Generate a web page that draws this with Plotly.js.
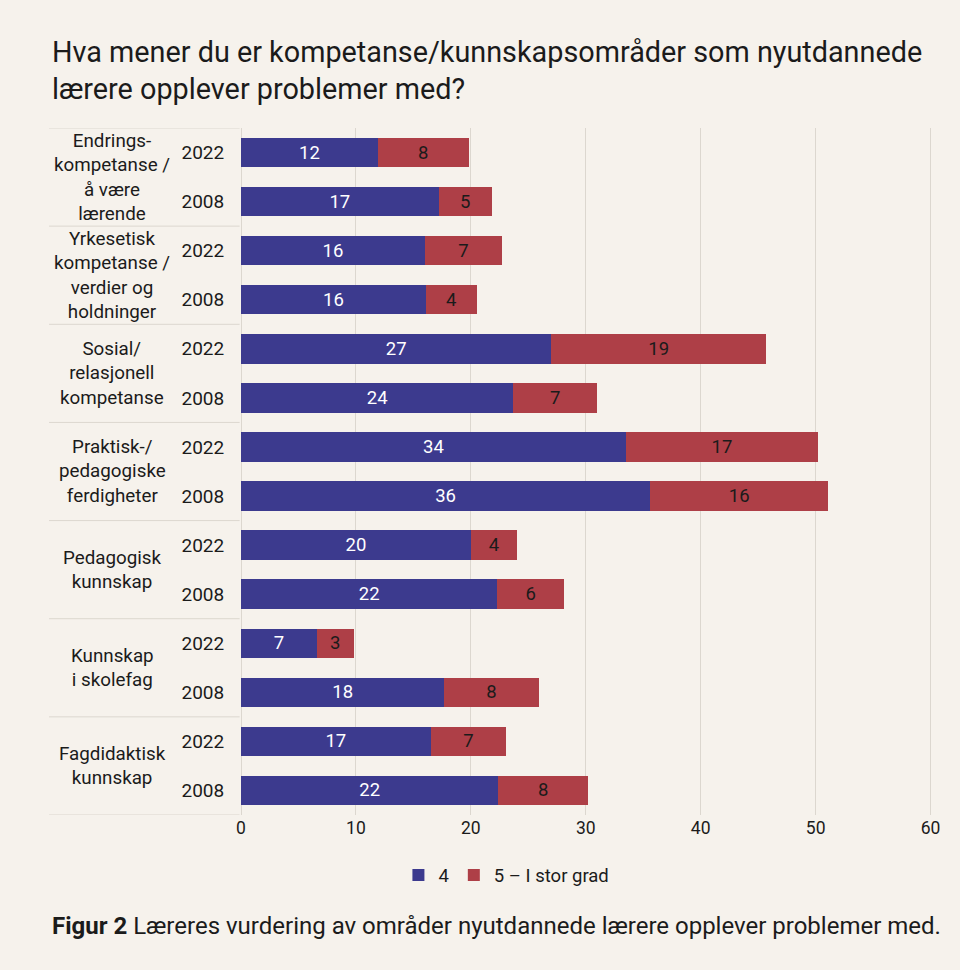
<!DOCTYPE html>
<html>
<head>
<meta charset="utf-8">
<script src="https://cdn.plot.ly/plotly-3.0.1.min.js"></script>
<style>
  html, body { margin: 0; padding: 0; background: #f6f2ec; }
  #chart { width: 960px; height: 970px; }
</style>
</head>
<body>
<div id="chart"></div>
<script>
// ---- Data ----
const groups = [
  "Endrings-<br>kompetanse /<br>å være<br>lærende",
  "Yrkesetisk<br>kompetanse /<br>verdier og<br>holdninger",
  "Sosial/<br>relasjonell<br>kompetanse",
  "Praktisk-/<br>pedagogiske<br>ferdigheter",
  "Pedagogisk<br>kunnskap",
  "Kunnskap<br>i skolefag",
  "Fagdidaktisk<br>kunnskap"
];
const years = ["2022", "2008"];
const grad4_2022 = [11.9, 16.0, 27.0, 33.5, 20.0, 6.6, 16.5];
const grad4_2008 = [17.2, 16.1, 23.7, 35.6, 22.3, 17.7, 22.4];
const grad5_2022 = [7.9, 6.7, 18.7, 16.7, 4.0, 3.2, 6.6];
const grad5_2008 = [4.6, 4.4, 7.3, 15.5, 5.8, 8.2, 7.8];
const seriesNames = ["4", "5 – I stor grad"];
const xTicks = [0, 10, 20, 30, 40, 50, 60];
const titleText = "Hva mener du er kompetanse/kunnskapsområder som nyutdannede<br>lærere opplever problemer med?";
const captionText = "<b>Figur 2</b> Læreres vurdering av områder nyutdannede lærere opplever problemer med.";

// ---- Build rows (2 per group) ----
const rowY = [], rowYearText = [], v4 = [], v5 = [];
groups.forEach((g, i) => {
  rowY.push(2 * i);     rowYearText.push(years[0]); v4.push(grad4_2022[i]); v5.push(grad5_2022[i]);
  rowY.push(2 * i + 1); rowYearText.push(years[1]); v4.push(grad4_2008[i]); v5.push(grad5_2008[i]);
});

const FONT = "Roboto, 'Noto Sans', sans-serif";
const TXT = "#1b1b1b";
const BLUE = "#3c3a8e";
const RED = "#ae3f47";
const GRID = "#dcd7cf";

const traces = [
  {
    type: "bar", orientation: "h", name: seriesNames[0],
    x: v4, y: rowY, marker: { color: BLUE, line: { width: 0 } },
    texttemplate: "%{x:.0f}", textposition: "inside", insidetextanchor: "middle",
    textangle: 0, insidetextfont: { color: "#ffffff", size: 18.5, family: FONT },
    hoverinfo: "skip"
  },
  {
    type: "bar", orientation: "h", name: seriesNames[1],
    x: v5, y: rowY, marker: { color: RED, line: { width: 0 } },
    texttemplate: "%{x:.0f}", textposition: "inside", insidetextanchor: "middle",
    textangle: 0, insidetextfont: { color: "#1b1b1b", size: 18.5, family: FONT },
    hoverinfo: "skip"
  }
];

// group labels + separators
const annotations = groups.map((g, i) => ({
  text: g, xref: "paper", yref: "y", x: -0.186, y: 2 * i + 0.5,
  xanchor: "center", yanchor: "middle", showarrow: false, align: "center",
  font: { family: FONT, size: 18.8, color: TXT }
}));
annotations.push({
  text: captionText, xref: "paper", yref: "paper", x: -0.275, y: -0.162,
  xanchor: "left", yanchor: "middle", showarrow: false, align: "left",
  font: { family: FONT, size: 24, color: TXT }
});

const shapes = [];
for (let i = 0; i <= groups.length; i++) {
  shapes.push({
    type: "line", xref: "paper", yref: "y", x0: -0.277, x1: -0.002,
    y0: 2 * i - 0.5, y1: 2 * i - 0.5, line: { color: GRID, width: 1 }
  });
}

const layout = {
  width: 960, height: 970,
  paper_bgcolor: "#f6f2ec", plot_bgcolor: "#f6f2ec",
  margin: { l: 241, r: 25.5, t: 128, b: 155 },
  font: { family: FONT, color: TXT },
  title: {
    text: titleText, x: 52 / 960, xanchor: "left", xref: "container",
    y: 1 - 62 / 970, yanchor: "top", yref: "container",
    font: { family: FONT, size: 28.8, color: TXT }
  },
  barmode: "stack", bargap: 0.4,
  xaxis: {
    range: [0, 60.3], tickvals: xTicks, ticktext: xTicks.map(String),
    showgrid: true, gridcolor: GRID, gridwidth: 1,
    zeroline: true, zerolinecolor: GRID, zerolinewidth: 1,
    showline: false, ticks: "", fixedrange: true,
    tickfont: { family: FONT, size: 17.5, color: TXT }
  },
  yaxis: {
    range: [13.5, -0.5], tickvals: rowY, ticktext: rowYearText,
    showgrid: false, zeroline: false, showline: false,
    ticks: "outside", ticklen: 12, tickcolor: "rgba(0,0,0,0)",
    tickfont: { family: FONT, size: 19, color: TXT }, fixedrange: true
  },
  showlegend: true,
  legend: {
    orientation: "h", x: 0.383, xanchor: "center", y: -0.088, yanchor: "middle",
    font: { family: FONT, size: 18.5, color: TXT }, bgcolor: "rgba(0,0,0,0)",
    traceorder: "normal", itemwidth: 30
  },
  annotations: annotations,
  shapes: shapes
};

Plotly.newPlot("chart", traces, layout, { displayModeBar: false, staticPlot: true });
</script>
</body>
</html>
